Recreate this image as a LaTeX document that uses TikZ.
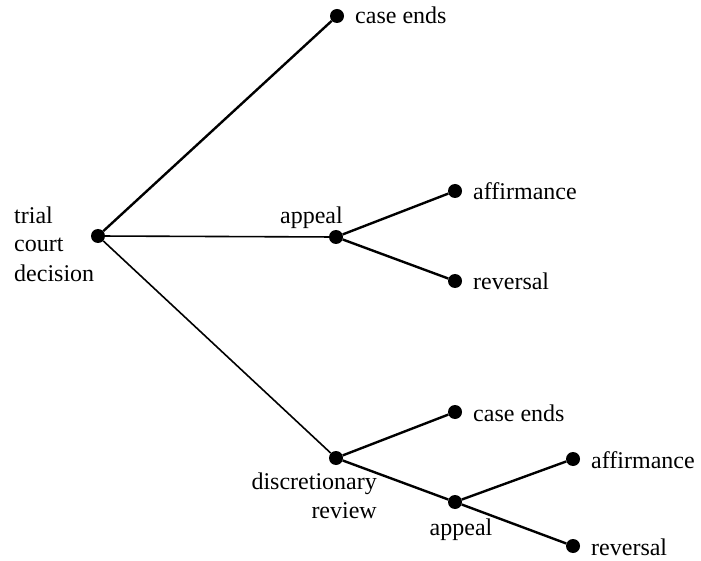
\documentclass[tikz,border=0pt]{standalone}
\usepackage{fontspec}
\setmainfont{Liberation Serif}
\begin{document}
\begin{tikzpicture}[x=1pt,y=-1pt,
  dot/.style={circle,fill=black,inner sep=0pt,minimum size=14pt},
  lbl/.style={inner sep=0pt,font=\fontsize{24}{29}\selectfont},
  thickline/.style={line width=2.4pt},
  thinline/.style={line width=1.6pt}]
\useasboundingbox (0,0) rectangle (701,561);
% dots
\node[dot] (R) at (98,236) {};
\node[dot] (C1) at (337,16) {};
\node[dot] (A) at (336,237) {};
\node[dot] (AF) at (455,191) {};
\node[dot] (RV) at (455,281) {};
\node[dot] (D) at (336,458) {};
\node[dot] (C2) at (455,412) {};
\node[dot] (A2) at (455,502) {};
\node[dot] (AF2) at (573,459) {};
\node[dot] (RV2) at (573,546) {};
% labels
\node[lbl,anchor=base west,align=left] (tR) at (14,281) {trial\\court\\decision};
\node[lbl,anchor=base west] (tC1) at (355,24) {case ends};
\node[lbl,anchor=base east] (tA) at (343,224) {appeal};
\node[lbl,anchor=base west] (tAF) at (473,200) {affirmance};
\node[lbl,anchor=base west] (tRV) at (473,290) {reversal};
\node[lbl,anchor=base west] (tC2) at (473,421) {case ends};
\node[lbl,anchor=base east,align=right] (tD) at (377,518) {discretionary\\review};
\node[lbl,anchor=base] (tA2) at (461,535) {appeal};
\node[lbl,anchor=base west] (tAF2) at (591,468) {affirmance};
\node[lbl,anchor=base west] (tRV2) at (591,555) {reversal};
% connectors
\draw[thickline] (R) -- (C1);
\draw[thinline] (R) -- (A);
\draw[thinline] (R) -- (D);
\draw[thickline] (A) -- (AF);
\draw[thickline] (A) -- (RV);
\draw[thickline] (D) -- (C2);
\draw[thickline] (D) -- (A2);
\draw[thickline] (A2) -- (AF2);
\draw[thickline] (A2) -- (RV2);
\end{tikzpicture}
\end{document}
